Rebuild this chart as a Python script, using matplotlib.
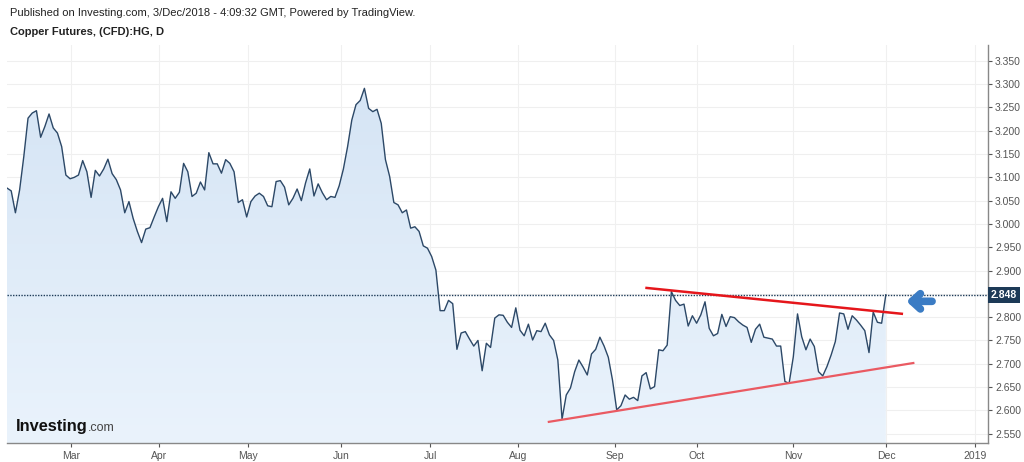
import numpy as np
import matplotlib
matplotlib.use('Agg')
import matplotlib.pyplot as plt
from matplotlib.colors import LinearSegmentedColormap
import matplotlib.transforms as mtransforms

plt.rcParams['font.family'] = ['Liberation Sans', 'DejaVu Sans']

# ---- data (daily closes) ----
prices = [
    3.077, 3.071, 3.024, 3.073, 3.145, 3.227, 3.238, 3.243, 3.186, 3.209,
    3.236, 3.206, 3.195, 3.166, 3.105, 3.097, 3.100, 3.105, 3.136, 3.112,
    3.057, 3.115, 3.103, 3.118, 3.139, 3.108, 3.095, 3.073, 3.024, 3.048,
    3.012, 2.984, 2.960, 2.989, 2.992, 3.015, 3.037, 3.055, 3.005, 3.069,
    3.055, 3.068, 3.130, 3.112, 3.059, 3.066, 3.090, 3.073, 3.153, 3.129,
    3.129, 3.109, 3.138, 3.130, 3.112, 3.046, 3.052, 3.015, 3.048, 3.060,
    3.066, 3.059, 3.039, 3.037, 3.091, 3.093, 3.079, 3.041, 3.055, 3.075,
    3.050, 3.088, 3.118, 3.060, 3.086, 3.067, 3.052, 3.059, 3.057, 3.082,
    3.118, 3.166, 3.223, 3.256, 3.265, 3.291, 3.248, 3.241, 3.246, 3.216,
    3.138, 3.102, 3.046, 3.041, 3.024, 3.030, 2.991, 2.994, 2.984, 2.953,
    2.948, 2.930, 2.901, 2.814, 2.814, 2.836, 2.829, 2.731, 2.766, 2.769,
    2.753, 2.738, 2.750, 2.685, 2.744, 2.735, 2.798, 2.805, 2.804, 2.789,
    2.778, 2.820, 2.772, 2.760, 2.785, 2.751, 2.771, 2.769, 2.787, 2.762,
    2.750, 2.708, 2.581, 2.633, 2.648, 2.683, 2.708, 2.693, 2.676, 2.721,
    2.731, 2.757, 2.738, 2.714, 2.665, 2.601, 2.610, 2.633, 2.624, 2.628,
    2.621, 2.674, 2.681, 2.646, 2.651, 2.730, 2.728, 2.740, 2.855, 2.836,
    2.825, 2.828, 2.781, 2.803, 2.787, 2.805, 2.833, 2.776, 2.760, 2.765,
    2.806, 2.780, 2.801, 2.799, 2.790, 2.783, 2.778, 2.746, 2.774, 2.785,
    2.757, 2.755, 2.753, 2.738, 2.738, 2.662, 2.658, 2.715, 2.807, 2.758,
    2.730, 2.753, 2.737, 2.683, 2.674, 2.694, 2.719, 2.748, 2.809, 2.807,
    2.774, 2.803, 2.794, 2.783, 2.771, 2.724, 2.811, 2.789, 2.787, 2.848,
]
month_labels = ['Mar', 'Apr', 'May', 'Jun', 'Jul', 'Aug', 'Sep', 'Oct', 'Nov', 'Dec', '2019']
month_pos = [15.3, 36.2, 57.4, 79.5, 100.6, 121.6, 144.6, 164.1, 186.9, 209.1, 230.2]
y_ticks = [2.55, 2.60, 2.65, 2.70, 2.75, 2.80, 2.85, 2.90, 2.95, 3.00,
           3.05, 3.10, 3.15, 3.20, 3.25, 3.30, 3.35]
last_price = 2.848
upper_trend_x = [151.8, 213.1]
upper_trend_y = [2.863, 2.807]
lower_trend_x = [128.6, 215.8]
lower_trend_y = [2.575, 2.702]
arrow_tip = (213.9, 2.834)
arrow_tail = (220.0, 2.834)

x = np.arange(len(prices))
y = np.array(prices)

W, H = 1024, 462
fig = plt.figure(figsize=(W / 100, H / 100), dpi=100)
fig.patch.set_facecolor('white')
ax = fig.add_axes([7 / W, 1 - 443 / H, (988 - 7) / W, (443 - 45) / H])

XMIN, XMAX = 0.0, 233.3
YMIN, YMAX = 2.530, 3.384

# gradient fill under the line
poly = ax.fill_between(x, y, YMIN - 1, facecolor='none', edgecolor='none')
cmap = LinearSegmentedColormap.from_list('g', ['#eaf3fc', '#d3e3f4'])
grad = np.linspace(0, 1, 256).reshape(-1, 1)
img = ax.imshow(grad, extent=[XMIN, XMAX, YMIN, YMAX], origin='lower',
                aspect='auto', cmap=cmap, zorder=1)
img.set_clip_path(poly.get_paths()[0], transform=ax.transData)

ax.plot(x, y, color='#2c4867', lw=1.0, zorder=3)

# grid
for v in y_ticks:
    ax.axhline(v, color='#efefef', lw=0.8, zorder=0.5)
for p in month_pos:
    ax.axvline(p, color='#f0f0f0', lw=0.8, zorder=0.5)

# last price dotted line
ax.axhline(last_price, color='#1d3a57', lw=1.0, ls=(0, (1, 1)), zorder=4)

# trend lines
ax.plot(upper_trend_x, upper_trend_y, color='#e5161b', lw=1.8, zorder=5,
        solid_capstyle='butt')
ax.plot(lower_trend_x, lower_trend_y, color='#ea5a62', lw=1.6, zorder=5,
        solid_capstyle='butt')

# arrow
ax.annotate('', xy=arrow_tip, xytext=arrow_tail,
            arrowprops=dict(arrowstyle='->,head_length=0.6,head_width=0.55',
                            lw=5.5, color='#3b7cc4', capstyle='round',
                            joinstyle='round', shrinkA=0, shrinkB=0),
            zorder=6, annotation_clip=False)

ax.set_xlim(XMIN, XMAX)
ax.set_ylim(YMIN, YMAX)

ax.set_yticks(y_ticks)
# the 2.850 label is hidden behind the last-price box in the original
ax.set_yticklabels(['' if abs(v - 2.85) < 1e-9 else '%.3f' % v for v in y_ticks])
ax.yaxis.tick_right()
ax.set_xticks(month_pos)
ax.set_xticklabels(month_labels)
ax.tick_params(axis='y', labelsize=7.5, colors='#555555', length=3, width=0.8,
               pad=2)
ax.tick_params(axis='x', labelsize=7.5, colors='#555555', length=3, width=0.8,
               pad=3)
for s in ['top', 'left']:
    ax.spines[s].set_visible(False)
for s in ['right', 'bottom']:
    ax.spines[s].set_color('#888888')
    ax.spines[s].set_linewidth(1.0)

# last price box on axis
trans = mtransforms.blended_transform_factory(ax.transAxes, ax.transData)
ax.text(1.003, last_price, '%.3f' % last_price, transform=trans, ha='left',
        va='center', color='white', fontsize=7.5, fontweight='bold',
        bbox=dict(boxstyle='square,pad=0.3', fc='#1d3a57', ec='none'),
        zorder=10, clip_on=False)

# header
fig.text(10 / W, 1 - 13 / H, 'Published on Investing.com, 3/Dec/2018 - 4:09:32 GMT, Powered by TradingView.',
         fontsize=8, color='#222222', va='center', ha='left')
fig.text(10 / W, 1 - 32 / H, 'Copper Futures, (CFD):HG, D', fontsize=8,
         fontweight='bold', color='#222222', va='center', ha='left')

# logo
fig.text(16 / W, 1 - 431 / H, 'Investing', fontsize=11.8, fontweight='bold',
         color='#111111', va='baseline', ha='left', zorder=10)
fig.text(88 / W, 1 - 431 / H, '.com', fontsize=9, color='#444444',
         va='baseline', ha='left', zorder=10)

fig.savefig('out.png', dpi=100, facecolor='white')
